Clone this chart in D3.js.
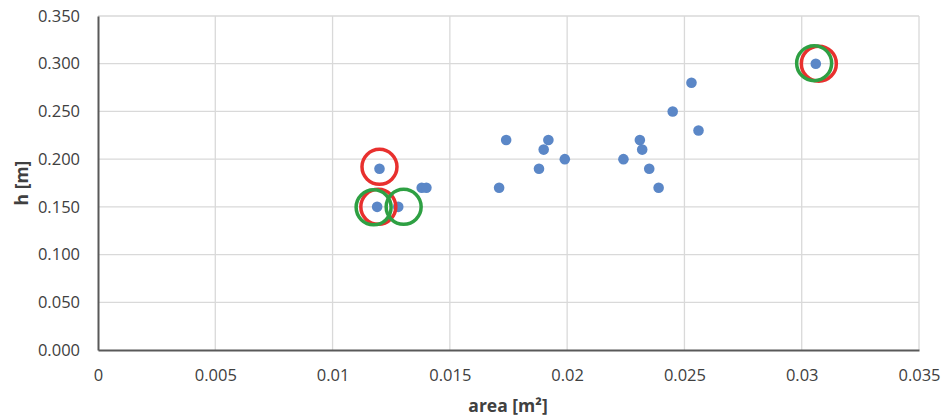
<!DOCTYPE html>
<html>
<head>
<meta charset="utf-8">
<script src="https://cdnjs.cloudflare.com/ajax/libs/d3/7.8.5/d3.min.js"></script>
<style>
  body { margin: 0; background: #fff; }
  text { font-family: "Open Sans", "Noto Sans", sans-serif; fill: #404040; }
</style>
</head>
<body>
<div id="chart"></div>
<script>
// measured points: area [m2] and h [m]
var areaVals = [0.0120, 0.0119, 0.0128, 0.0138, 0.0140, 0.0171, 0.0174, 0.0188, 0.0190, 0.0192,
                0.0199, 0.0224, 0.0231, 0.0232, 0.0235, 0.0239, 0.0245, 0.0253, 0.0256, 0.0306];
var hVals    = [0.190, 0.150, 0.150, 0.170, 0.170, 0.170, 0.220, 0.190, 0.210, 0.220,
                0.200, 0.200, 0.220, 0.210, 0.190, 0.170, 0.250, 0.280, 0.230, 0.300];

// highlighted points (rings)
var redRingX   = [0.0120, 0.01195, 0.03073];
var redRingY   = [0.192, 0.150, 0.300];
var greenRingX = [0.01175, 0.01303, 0.03053];
var greenRingY = [0.1495, 0.150, 0.3005];

var xTicks = [0, 0.005, 0.01, 0.015, 0.02, 0.025, 0.03, 0.035];
var yTicks = [0, 0.05, 0.1, 0.15, 0.2, 0.25, 0.3, 0.35];

var width = 943, height = 418;
var margin = {top: 16, right: 24, bottom: 68, left: 98};

var svg = d3.select("#chart").append("svg")
    .attr("width", width)
    .attr("height", height);

var xScale = d3.scaleLinear()
    .domain([0, 0.035])
    .range([margin.left, width - margin.right]);

var yScale = d3.scaleLinear()
    .domain([0, 0.35])
    .range([height - margin.bottom, margin.top]);

// gridlines
svg.append("g").selectAll("line.vgrid")
    .data(xTicks.slice(1))
    .enter().append("line")
    .attr("x1", function(d){ return xScale(d); })
    .attr("x2", function(d){ return xScale(d); })
    .attr("y1", yScale(0))
    .attr("y2", yScale(0.35))
    .attr("stroke", "#d9d9d9")
    .attr("stroke-width", 1.3);

svg.append("g").selectAll("line.hgrid")
    .data(yTicks.slice(1))
    .enter().append("line")
    .attr("x1", xScale(0))
    .attr("x2", xScale(0.035))
    .attr("y1", function(d){ return yScale(d); })
    .attr("y2", function(d){ return yScale(d); })
    .attr("stroke", "#d9d9d9")
    .attr("stroke-width", 1.3);

// axes
var xAxis = d3.axisBottom(xScale)
    .tickValues(xTicks)
    .tickSize(0)
    .tickPadding(19)
    .tickFormat(function(d){ return d === 0 ? "0" : String(+d.toFixed(3)); });

var yAxis = d3.axisLeft(yScale)
    .tickValues(yTicks)
    .tickSize(0)
    .tickPadding(18)
    .tickFormat(d3.format(".3f"));

svg.append("g")
    .attr("class", "axis x-axis")
    .attr("transform", "translate(0," + yScale(0) + ")")
    .call(xAxis);

svg.append("g")
    .attr("class", "axis y-axis")
    .attr("transform", "translate(" + xScale(0) + ",0)")
    .call(yAxis);

svg.selectAll(".axis .domain")
    .attr("stroke", "#595959")
    .attr("stroke-width", 2);

svg.selectAll(".axis text")
    .attr("font-size", 16.5)
    .attr("font-family", "Open Sans, Noto Sans, sans-serif")
    .attr("fill", "#404040");

// axis titles
svg.append("text")
    .attr("x", 508)
    .attr("y", 412)
    .attr("text-anchor", "middle")
    .attr("font-size", 17.5)
    .attr("font-weight", "bold")
    .text("area [m²]");

svg.append("text")
    .attr("transform", "translate(28," + ((yScale(0) + yScale(0.35)) / 2) + ") rotate(-90)")
    .attr("text-anchor", "middle")
    .attr("font-size", 17.5)
    .attr("font-weight", "bold")
    .text("h [m]");

// data points
var points = areaVals.map(function(a, i){ return {x: a, y: hVals[i]}; });

svg.append("g").selectAll("circle.pt")
    .data(points)
    .enter().append("circle")
    .attr("class", "pt")
    .attr("cx", function(d){ return xScale(d.x); })
    .attr("cy", function(d){ return yScale(d.y); })
    .attr("r", 5.3)
    .attr("fill", "#5b87c7");

// rings
function drawRings(xs, ys, color) {
    var data = xs.map(function(a, i){ return {x: a, y: ys[i]}; });
    svg.append("g").selectAll("circle")
        .data(data)
        .enter().append("circle")
        .attr("cx", function(d){ return xScale(d.x); })
        .attr("cy", function(d){ return yScale(d.y); })
        .attr("r", 17.5)
        .attr("fill", "none")
        .attr("stroke", color)
        .attr("stroke-width", 3.5);
}

drawRings(redRingX, redRingY, "#e8302e");
drawRings(greenRingX, greenRingY, "#2ea043");
</script>
</body>
</html>
